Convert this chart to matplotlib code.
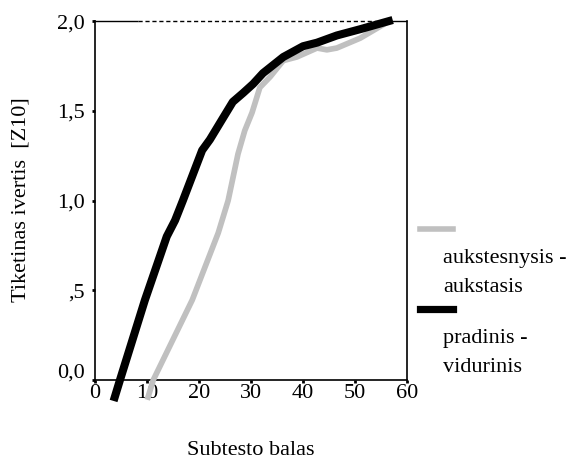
import matplotlib.pyplot as plt
import matplotlib.transforms as mtransforms
from matplotlib.lines import Line2D

plt.rcParams["font.family"] = ["Liberation Serif", "DejaVu Serif"]

# subtest score vs. item rating, two school-level groups
x_upper = [10.2, 11.2, 18.7, 23.7, 25.6, 27.5, 28.8, 30.2, 31.7, 33.7, 36.2, 38.8,
           42.7, 44.6, 46.5, 51.0, 55.4, 56.5]
y_upper = [-0.095, 0.0, 0.446, 0.82, 1.0, 1.26, 1.39, 1.49, 1.63, 1.69, 1.78, 1.80,
           1.85, 1.84, 1.85, 1.905, 1.98, 2.0]

x_lower = [3.8, 4.8, 9.6, 13.8, 15.4, 16.9, 20.6, 22.1, 24.4, 26.5, 28.5, 30.4,
           32.3, 36.2, 40.0, 42.7, 46.5, 51.0, 56.5]
y_lower = [-0.095, 0.0, 0.446, 0.80, 0.89, 1.0, 1.28, 1.34, 1.45, 1.55, 1.60, 1.65,
           1.71, 1.80, 1.86, 1.88, 1.92, 1.955, 2.0]

labels = ["aukstesnysis -\naukstasis", "pradinis -\nvidurinis"]
colors = ["#c0c0c0", "black"]
x_ticks = [0, 10, 20, 30, 40, 50, 60]
y_ticks = [0.0, 0.5, 1.0, 1.5, 2.0]
y_ticklabels = ["0,0", ",5", "1,0", "1,5", "2,0"]

fig = plt.figure(figsize=(5.74, 4.59), dpi=100)
ax = fig.add_axes([0.1655, 0.172, 0.5436, 0.782])

ax.plot(x_upper, y_upper, color=colors[0], lw=4.1, clip_on=False, zorder=3)
ax.plot(x_lower, y_lower, color=colors[1], lw=5.8, clip_on=False, zorder=4)

ax.set_xlim(0, 60)
ax.set_ylim(0, 2)

# top border: solid ends, dashed reference in between
ax.spines["top"].set_visible(False)
ax.hlines(2.0, 0, 8.3, color="black", lw=1.0, clip_on=False)
ax.hlines(2.0, 8.3, 56.5, color="black", lw=1.0, linestyles=(0, (3, 2)), clip_on=False)
ax.hlines(2.0, 56.5, 60, color="black", lw=1.0, clip_on=False)
for side in ["left", "right", "bottom"]:
    ax.spines[side].set_linewidth(1.2)

ax.set_xticks(x_ticks)
ax.set_yticks(y_ticks)
ax.set_yticklabels(y_ticklabels)
ax.tick_params(axis="both", labelsize=16, length=2.5, width=2, direction="out")
ax.tick_params(axis="x", pad=0)
ax.tick_params(axis="y", pad=5)

# lift the zero label a little
lbl0 = ax.get_yticklabels()[0]
lbl0.set_transform(lbl0.get_transform() + mtransforms.ScaledTranslation(0, 10 / 100, fig.dpi_scale_trans))

fig.text(0.037, 0.566, "Tiketinas ivertis  [Z10]", rotation=90, ha="center", va="center", fontsize=16)
fig.text(0.436, 0.018, "Subtesto balas", ha="center", va="center", fontsize=16)

# legend drawn to the right of the plot
fx = lambda px: px / 574
fy = lambda py: 1 - py / 459
handle_y = [229, 309]
text_y = [258, 338]
widths = [4.0, 5.2]
for i in range(2):
    fig.add_artist(Line2D([fx(420), fx(453)], [fy(handle_y[i])] * 2, color=colors[i], lw=widths[i],
                          transform=fig.transFigure))
    first, second = labels[i].split("\n")
    fig.text(fx(443), fy(text_y[i]), first, ha="left", va="center", fontsize=16)
    fig.text(fx(443), fy(text_y[i] + 29), second, ha="left", va="center", fontsize=16)

fig.savefig("out.png", dpi=100)
